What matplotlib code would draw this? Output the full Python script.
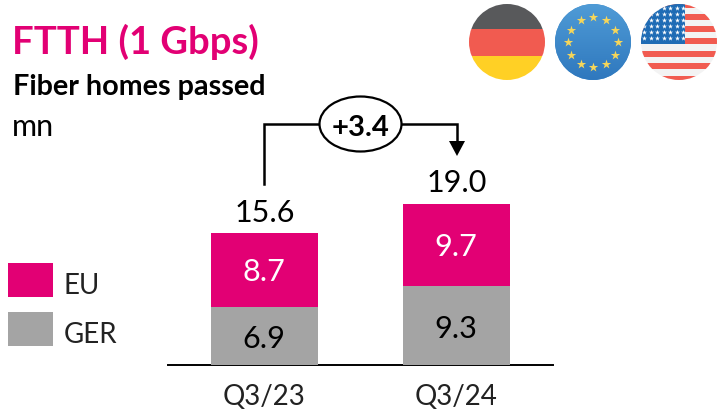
import numpy as np
import matplotlib
matplotlib.use('Agg')
import matplotlib.pyplot as plt
from matplotlib.patches import Ellipse, Rectangle, Circle, Polygon

categories = ['Q3/23', 'Q3/24']
ger = [6.9, 9.3]
eu = [8.7, 9.7]
totals = ['15.6', '19.0']
delta = '+3.4'

MAG = '#E20074'
GRY = '#A4A4A4'
plt.rcParams['font.family'] = ['Lato', 'DejaVu Sans']

W, H = 720, 410
fig = plt.figure(figsize=(W/100, H/100), dpi=100)
ov = fig.add_axes([0, 0, 1, 1])
ov.set_xlim(0, W); ov.set_ylim(H, 0); ov.axis('off')

base = 366
px_per = (base - 205.5) / 19.0
ax = fig.add_axes([168/W, 0, (722-168)/W, 1])
ax.patch.set_alpha(0)
ax.set_xlim(168, 722)
ax.set_ylim((base-H)/px_per, base/px_per)
ax.axis('off')
xs = [264.5, 456.5]
bw = 107
ax.bar(xs, ger, width=bw, color=GRY)
ax.bar(xs, eu, width=bw, bottom=ger, color=MAG)
for x, g, e in zip(xs, ger, eu):
    ax.text(x-1, g/2, f'{g}', ha='center', va='center_baseline', fontsize=22, color='black')
    ax.text(x-1, g+e/2+0.2, f'{e}', ha='center', va='center_baseline', fontsize=22, color='white')
for x, y, t in zip(xs, [211, 181], totals):
    ov.text(x, y, t, ha='center', va='center_baseline', fontsize=22, color='black')
for x, c in zip(xs, categories):
    ov.text(x, 395, c, ha='center', va='center_baseline', fontsize=20, color='#222222')
ov.plot([168, 553], [365.5, 365.5], color='black', lw=1.4)

ov.text(12, 39, 'FTTH (1 Gbps)', ha='left', va='center_baseline', fontsize=27.5, fontweight='bold', color=MAG)
ov.text(13, 85, 'Fiber homes passed', ha='left', va='center_baseline', fontsize=20.7, fontweight='bold', color='black')
ov.text(12, 124, 'mn', ha='left', va='center_baseline', fontsize=22, color='black')

for y, c, t in [(264, MAG, 'EU'), (313, GRY, 'GER')]:
    ov.add_patch(Rectangle((8, y), 45, 34, color=c, lw=0))
    ov.text(64, y+20, t, ha='left', va='center_baseline', fontsize=20, color='#222222')

ov.plot([264, 264, 322], [185, 124.5, 124.5], color='black', lw=1.8, solid_joinstyle='miter')
ov.plot([400, 457, 457], [124.5, 124.5, 145], color='black', lw=1.8, solid_joinstyle='miter')
ov.add_patch(Polygon([[449, 142], [465, 142], [457, 157]], color='black', lw=0))
ov.add_patch(Ellipse((360.5, 125), 82, 55, fc='white', ec='black', lw=1.6, zorder=3))
ov.text(360.5, 125, delta, ha='center', va='center_baseline', fontsize=21, fontweight='bold', color='black', zorder=4)

r = 38
c1 = (507, 43); c2 = (593, 43); c3 = (679, 43)
cp = Circle(c1, r, transform=ov.transData)
for (y0, y1, col) in [(0, 30, '#58595B'), (30, 57, '#F15B50'), (57, 90, '#FFD025')]:
    p = Rectangle((c1[0]-r, y0), 2*r, y1-y0, color=col, lw=0)
    ov.add_patch(p); p.set_clip_path(cp)

ov.add_patch(Circle(c2, r, color='#3F8BCB', lw=0))
grad = np.linspace(0, 1, 64).reshape(-1, 1)
im = ov.imshow(grad, extent=(c2[0]-r, c2[0]+r, c2[1]+r, c2[1]-r), aspect='auto',
               cmap=matplotlib.colors.LinearSegmentedColormap.from_list('b', ['#4F9BD6', '#2F78BE']), zorder=2)
ov.set_xlim(0, W); ov.set_ylim(H, 0)
im.set_clip_path(Circle(c2, r, transform=ov.transData))
ang = np.deg2rad(np.arange(0, 360, 30))
ov.scatter(c2[0]+25*np.cos(ang), c2[1]+25*np.sin(ang), marker='*', s=50, color='#F6D65A', lw=0, zorder=3)

cp = Circle(c3, r, transform=ov.transData)
p = Rectangle((c3[0]-r, c3[1]-r), 2*r, 2*r, color='#F3F3F3', lw=0)
ov.add_patch(p); p.set_clip_path(cp)
for y0 in [3, 15, 27, 39, 52, 64, 77]:
    p = Rectangle((c3[0]-r, y0), 2*r, 6.3, color='#F15B50', lw=0)
    ov.add_patch(p); p.set_clip_path(cp)
p = Rectangle((c3[0]-r, c3[1]-r), 44, 40, color='#1F6CB5', lw=0)
ov.add_patch(p); p.set_clip_path(cp)
sx, sy = np.meshgrid(np.arange(c3[0]-35, c3[0]+6, 6.5), np.arange(9, 44, 6))
s = ov.scatter(sx.ravel(), sy.ravel(), marker='*', s=14, color='white', lw=0, zorder=3)
s.set_clip_path(cp)

fig.savefig('out.png', dpi=100)
